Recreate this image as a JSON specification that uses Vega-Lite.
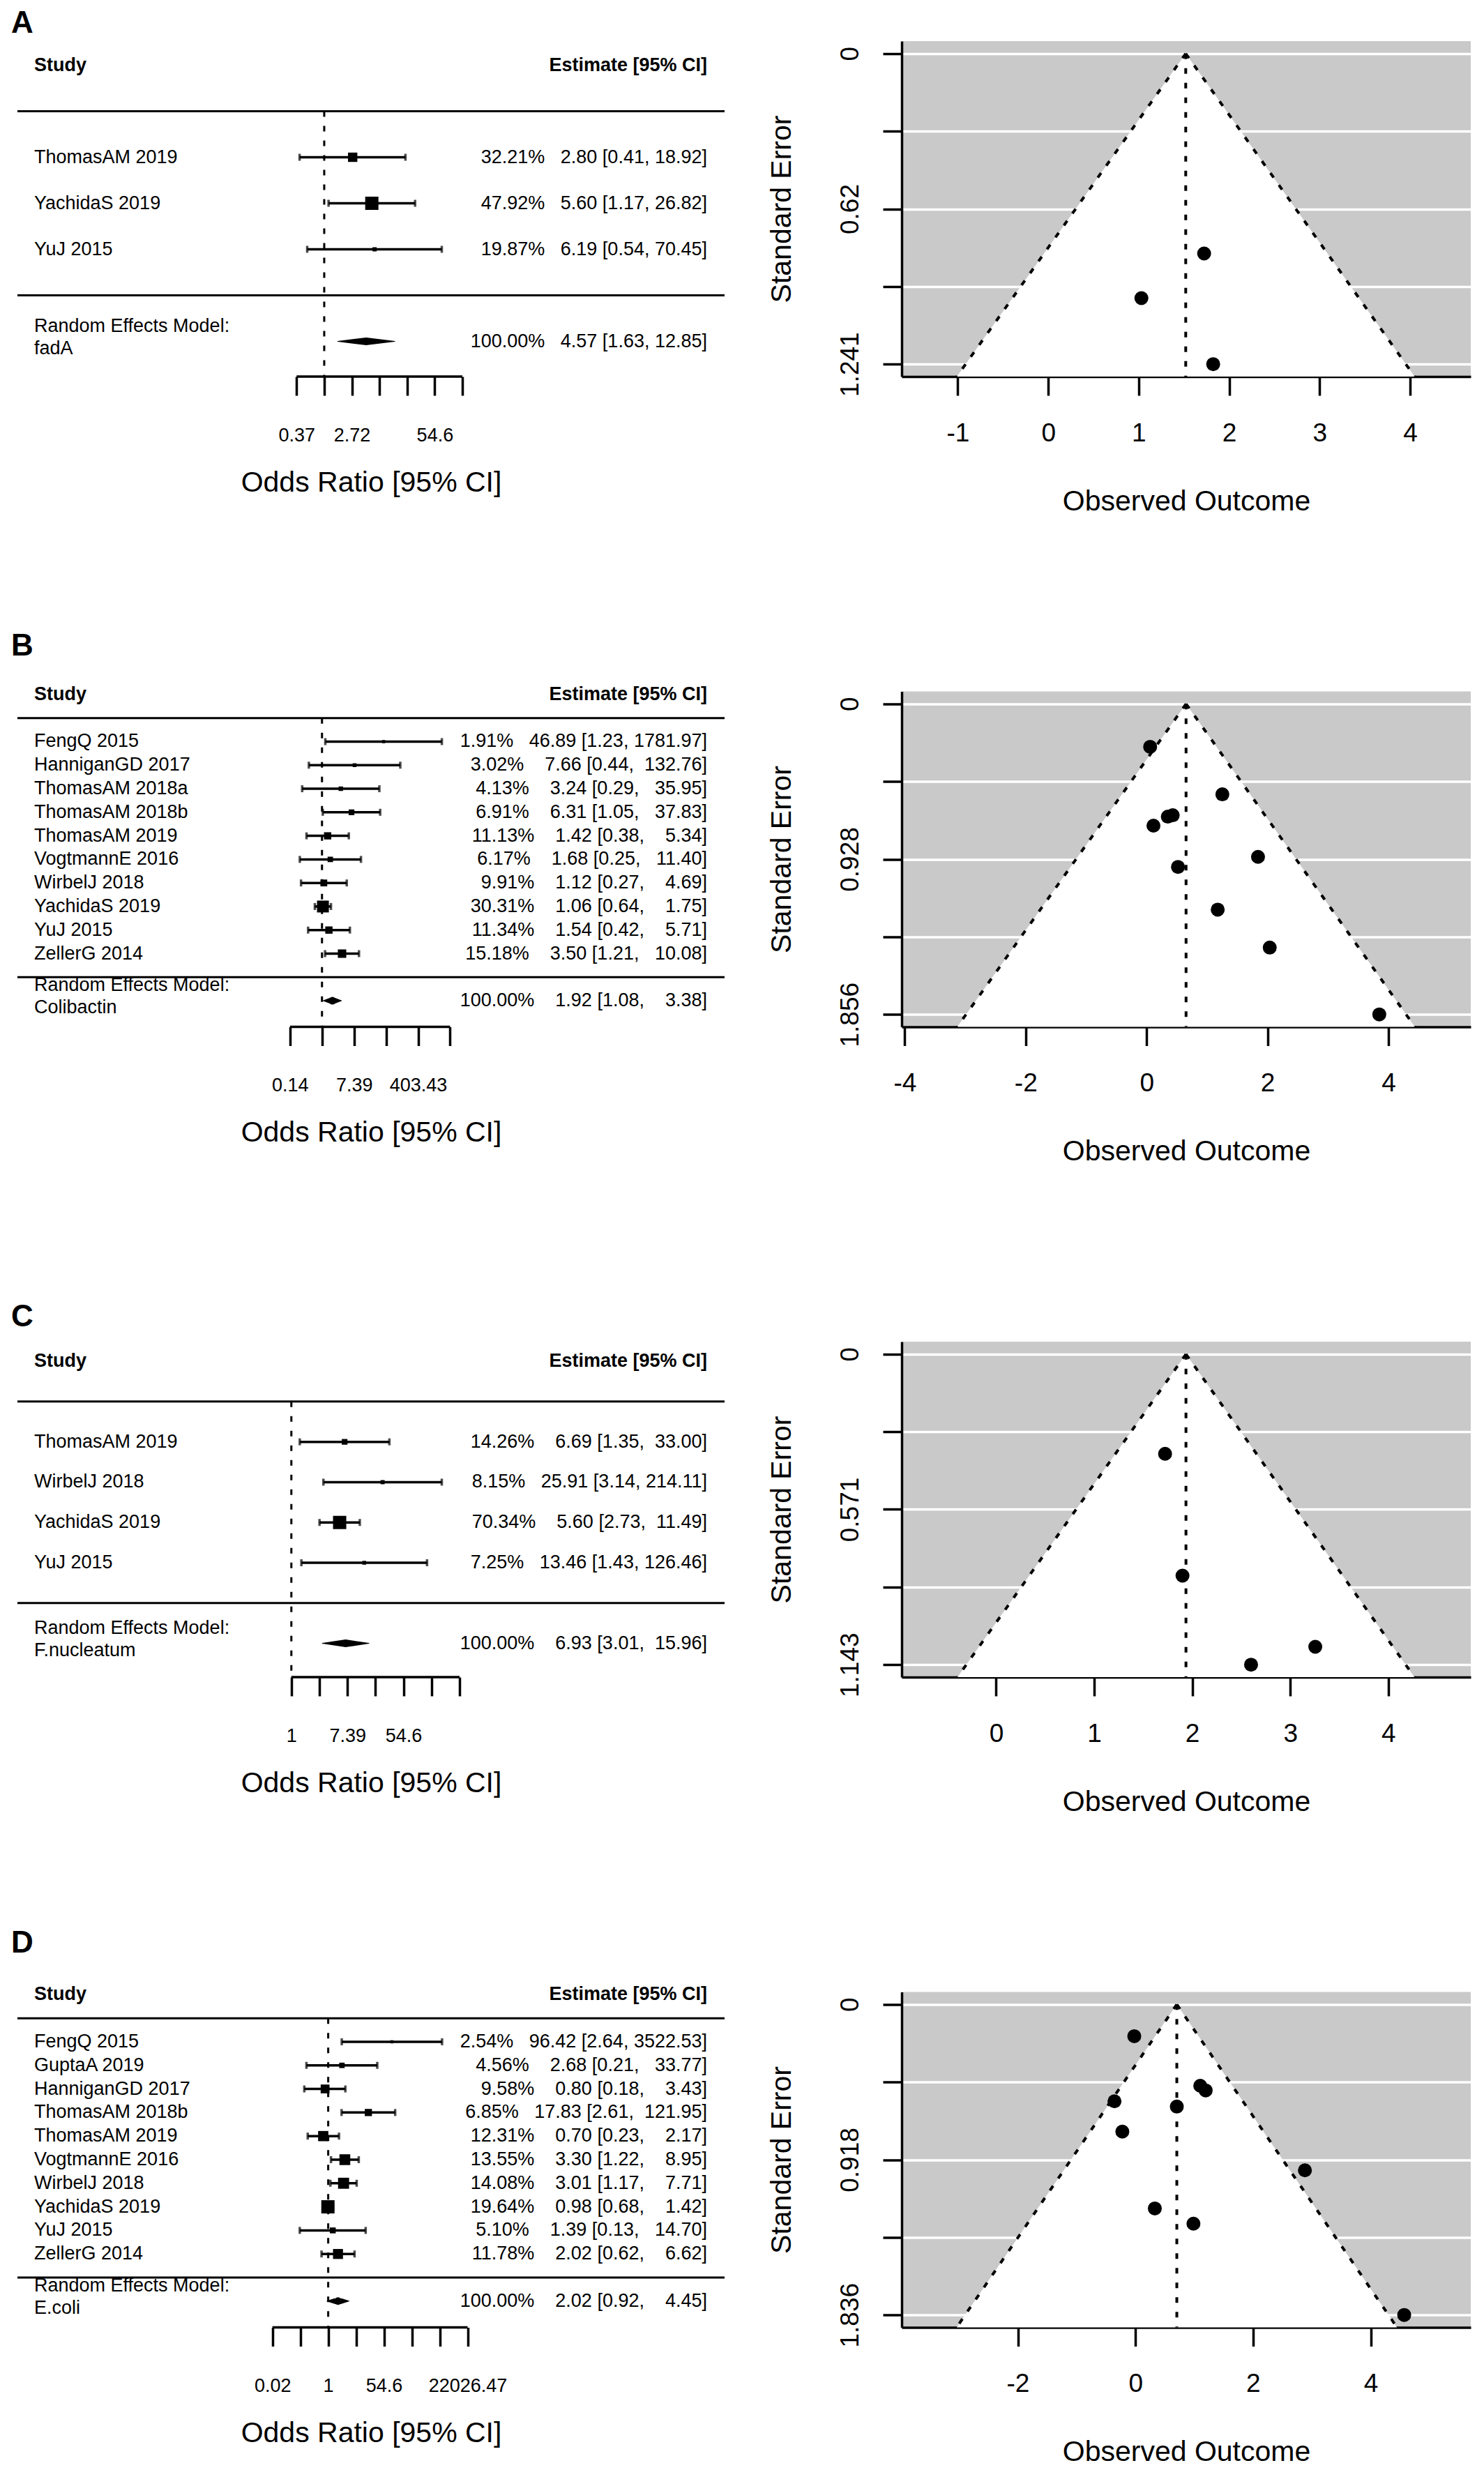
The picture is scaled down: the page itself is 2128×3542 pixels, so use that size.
{
"$schema": "https://vega.github.io/schema/vega-lite/v6.json",
"background": "white",
"padding": {"left": 16, "top": 12, "right": 10, "bottom": 5},
"columns": 2,
"bounds": "flush",
"align": "each",
"spacing": {"row": 451.5, "column": 254},
"config": {
 "font": "Liberation Sans",
 "view": {"stroke": null},
 "axis": {"labelFont": "Liberation Sans", "titleFont": "Liberation Sans", "labelColor": "#000", "titleColor": "#000", "domainColor": "#000", "tickColor": "#000", "titleFontWeight": "normal", "labelFlush": false, "labelOverlap": false, "labelBound": false},
 "title": {"font": "Liberation Sans", "fontSize": 44, "fontWeight": "bold", "color": "#000", "anchor": "start", "frame": "group", "baseline": "alphabetic", "dx": -9, "dy": 7},
 "text": {"font": "Liberation Sans", "fontSize": 27, "color": "#000"}
},
"datasets": {
 "fA": [
  {"study": "ThomasAM 2019", "row": 3, "or": 2.80, "lo": 0.41, "hi": 18.92, "w": 32.21, "annot": "32.21%\u00a0\u00a0\u00a02.80\u00a0[0.41,\u00a018.92]"},
  {"study": "YachidaS 2019", "row": 2, "or": 5.60, "lo": 1.17, "hi": 26.82, "w": 47.92, "annot": "47.92%\u00a0\u00a0\u00a05.60\u00a0[1.17,\u00a026.82]"},
  {"study": "YuJ 2015", "row": 1, "or": 6.19, "lo": 0.54, "hi": 70.45, "w": 19.87, "annot": "19.87%\u00a0\u00a0\u00a06.19\u00a0[0.54,\u00a070.45]"}
 ],
 "rA": [{"label": ["Random Effects Model:", "fadA"], "row": -1, "or": 4.57, "lo": 1.63, "hi": 12.85, "annot": "100.00%\u00a0\u00a0\u00a04.57\u00a0[1.63,\u00a012.85]"}],
 "dA": [{"row": -1, "val": 1.63, "vertex": "end"}, {"row": -1, "val": 4.57, "vertex": "mid"}, {"row": -1, "val": 12.85, "vertex": "end"}],
 "wA": [{"se": 0, "lo": 1.5195, "hi": 1.5195}, {"se": 1.291, "lo": -1.0109, "hi": 4.0499}],
 "lA": [{"x0": 1.5195, "y0": 0, "x1": -1.0109, "y1": 1.291}, {"x0": 1.5195, "y0": 0, "x1": 4.0499, "y1": 1.291}, {"x0": 1.5195, "y0": 0, "x1": 1.5195, "y1": 1.291}],
 "pA": [{"study": "ThomasAM 2019", "yi": 1.0296, "sei": 0.9775}, {"study": "YachidaS 2019", "yi": 1.7228, "sei": 0.799}, {"study": "YuJ 2015", "yi": 1.8229, "sei": 1.2413}],

 "fB": [
  {"study": "FengQ 2015", "row": 10, "or": 46.89, "lo": 1.23, "hi": 1781.97, "w": 1.91, "annot": "1.91%\u00a0\u00a0\u00a046.89\u00a0[1.23,\u00a01781.97]"},
  {"study": "HanniganGD 2017", "row": 9, "or": 7.66, "lo": 0.44, "hi": 132.76, "w": 3.02, "annot": "3.02%\u00a0\u00a0\u00a0\u00a07.66\u00a0[0.44,\u00a0\u00a0132.76]"},
  {"study": "ThomasAM 2018a", "row": 8, "or": 3.24, "lo": 0.29, "hi": 35.95, "w": 4.13, "annot": "4.13%\u00a0\u00a0\u00a0\u00a03.24\u00a0[0.29,\u00a0\u00a0\u00a035.95]"},
  {"study": "ThomasAM 2018b", "row": 7, "or": 6.31, "lo": 1.05, "hi": 37.83, "w": 6.91, "annot": "6.91%\u00a0\u00a0\u00a0\u00a06.31\u00a0[1.05,\u00a0\u00a0\u00a037.83]"},
  {"study": "ThomasAM 2019", "row": 6, "or": 1.42, "lo": 0.38, "hi": 5.34, "w": 11.13, "annot": "11.13%\u00a0\u00a0\u00a0\u00a01.42\u00a0[0.38,\u00a0\u00a0\u00a0\u00a05.34]"},
  {"study": "VogtmannE 2016", "row": 5, "or": 1.68, "lo": 0.25, "hi": 11.40, "w": 6.17, "annot": "6.17%\u00a0\u00a0\u00a0\u00a01.68\u00a0[0.25,\u00a0\u00a0\u00a011.40]"},
  {"study": "WirbelJ 2018", "row": 4, "or": 1.12, "lo": 0.27, "hi": 4.69, "w": 9.91, "annot": "9.91%\u00a0\u00a0\u00a0\u00a01.12\u00a0[0.27,\u00a0\u00a0\u00a0\u00a04.69]"},
  {"study": "YachidaS 2019", "row": 3, "or": 1.06, "lo": 0.64, "hi": 1.75, "w": 30.31, "annot": "30.31%\u00a0\u00a0\u00a0\u00a01.06\u00a0[0.64,\u00a0\u00a0\u00a0\u00a01.75]"},
  {"study": "YuJ 2015", "row": 2, "or": 1.54, "lo": 0.42, "hi": 5.71, "w": 11.34, "annot": "11.34%\u00a0\u00a0\u00a0\u00a01.54\u00a0[0.42,\u00a0\u00a0\u00a0\u00a05.71]"},
  {"study": "ZellerG 2014", "row": 1, "or": 3.50, "lo": 1.21, "hi": 10.08, "w": 15.18, "annot": "15.18%\u00a0\u00a0\u00a0\u00a03.50\u00a0[1.21,\u00a0\u00a0\u00a010.08]"}
 ],
 "rB": [{"label": ["Random Effects Model:", "Colibactin"], "row": -1, "or": 1.92, "lo": 1.08, "hi": 3.38, "annot": "100.00%\u00a0\u00a0\u00a0\u00a01.92\u00a0[1.08,\u00a0\u00a0\u00a0\u00a03.38]"}],
 "dB": [{"row": -1, "val": 1.08, "vertex": "end"}, {"row": -1, "val": 1.92, "vertex": "mid"}, {"row": -1, "val": 3.38, "vertex": "end"}],
 "wB": [{"se": 0, "lo": 0.6523, "hi": 0.6523}, {"se": 1.9302, "lo": -3.1309, "hi": 4.4355}],
 "lB": [{"x0": 0.6523, "y0": 0, "x1": -3.1309, "y1": 1.9302}, {"x0": 0.6523, "y0": 0, "x1": 4.4355, "y1": 1.9302}, {"x0": 0.6523, "y0": 0, "x1": 0.6523, "y1": 1.9302}],
 "pB": [
  {"study": "FengQ 2015", "yi": 3.8477, "sei": 1.856},
  {"study": "HanniganGD 2017", "yi": 2.036, "sei": 1.4565},
  {"study": "ThomasAM 2018a", "yi": 1.1756, "sei": 1.2296},
  {"study": "ThomasAM 2018b", "yi": 1.8421, "sei": 0.9143},
  {"study": "ThomasAM 2019", "yi": 0.3507, "sei": 0.6742},
  {"study": "VogtmannE 2016", "yi": 0.5188, "sei": 0.9745},
  {"study": "WirbelJ 2018", "yi": 0.1133, "sei": 0.7282},
  {"study": "YachidaS 2019", "yi": 0.0583, "sei": 0.2566},
  {"study": "YuJ 2015", "yi": 0.4318, "sei": 0.6657},
  {"study": "ZellerG 2014", "yi": 1.2528, "sei": 0.5408}
 ],

 "fC": [
  {"study": "ThomasAM 2019", "row": 4, "or": 6.69, "lo": 1.35, "hi": 33.00, "w": 14.26, "annot": "14.26%\u00a0\u00a0\u00a0\u00a06.69\u00a0[1.35,\u00a0\u00a033.00]"},
  {"study": "WirbelJ 2018", "row": 3, "or": 25.91, "lo": 3.14, "hi": 214.11, "w": 8.15, "annot": "8.15%\u00a0\u00a0\u00a025.91\u00a0[3.14,\u00a0214.11]"},
  {"study": "YachidaS 2019", "row": 2, "or": 5.60, "lo": 2.73, "hi": 11.49, "w": 70.34, "annot": "70.34%\u00a0\u00a0\u00a0\u00a05.60\u00a0[2.73,\u00a0\u00a011.49]"},
  {"study": "YuJ 2015", "row": 1, "or": 13.46, "lo": 1.43, "hi": 126.46, "w": 7.25, "annot": "7.25%\u00a0\u00a0\u00a013.46\u00a0[1.43,\u00a0126.46]"}
 ],
 "rC": [{"label": ["Random Effects Model:", "F.nucleatum"], "row": -1, "or": 6.93, "lo": 3.01, "hi": 15.96, "annot": "100.00%\u00a0\u00a0\u00a0\u00a06.93\u00a0[3.01,\u00a0\u00a015.96]"}],
 "dC": [{"row": -1, "val": 3.01, "vertex": "end"}, {"row": -1, "val": 6.93, "vertex": "mid"}, {"row": -1, "val": 15.96, "vertex": "end"}],
 "wC": [{"se": 0, "lo": 1.9359, "hi": 1.9359}, {"se": 1.1887, "lo": -0.394, "hi": 4.2658}],
 "lC": [{"x0": 1.9359, "y0": 0, "x1": -0.394, "y1": 1.1887}, {"x0": 1.9359, "y0": 0, "x1": 4.2658, "y1": 1.1887}, {"x0": 1.9359, "y0": 0, "x1": 1.9359, "y1": 1.1887}],
 "pC": [
  {"study": "ThomasAM 2019", "yi": 1.9006, "sei": 0.8154},
  {"study": "WirbelJ 2018", "yi": 3.2546, "sei": 1.0771},
  {"study": "YachidaS 2019", "yi": 1.7228, "sei": 0.3667},
  {"study": "YuJ 2015", "yi": 2.5997, "sei": 1.143}
 ],

 "fD": [
  {"study": "FengQ 2015", "row": 10, "or": 96.42, "lo": 2.64, "hi": 3522.53, "w": 2.54, "annot": "2.54%\u00a0\u00a0\u00a096.42\u00a0[2.64,\u00a03522.53]"},
  {"study": "GuptaA 2019", "row": 9, "or": 2.68, "lo": 0.21, "hi": 33.77, "w": 4.56, "annot": "4.56%\u00a0\u00a0\u00a0\u00a02.68\u00a0[0.21,\u00a0\u00a0\u00a033.77]"},
  {"study": "HanniganGD 2017", "row": 8, "or": 0.80, "lo": 0.18, "hi": 3.43, "w": 9.58, "annot": "9.58%\u00a0\u00a0\u00a0\u00a00.80\u00a0[0.18,\u00a0\u00a0\u00a0\u00a03.43]"},
  {"study": "ThomasAM 2018b", "row": 7, "or": 17.83, "lo": 2.61, "hi": 121.95, "w": 6.85, "annot": "6.85%\u00a0\u00a0\u00a017.83\u00a0[2.61,\u00a0\u00a0121.95]"},
  {"study": "ThomasAM 2019", "row": 6, "or": 0.70, "lo": 0.23, "hi": 2.17, "w": 12.31, "annot": "12.31%\u00a0\u00a0\u00a0\u00a00.70\u00a0[0.23,\u00a0\u00a0\u00a0\u00a02.17]"},
  {"study": "VogtmannE 2016", "row": 5, "or": 3.30, "lo": 1.22, "hi": 8.95, "w": 13.55, "annot": "13.55%\u00a0\u00a0\u00a0\u00a03.30\u00a0[1.22,\u00a0\u00a0\u00a0\u00a08.95]"},
  {"study": "WirbelJ 2018", "row": 4, "or": 3.01, "lo": 1.17, "hi": 7.71, "w": 14.08, "annot": "14.08%\u00a0\u00a0\u00a0\u00a03.01\u00a0[1.17,\u00a0\u00a0\u00a0\u00a07.71]"},
  {"study": "YachidaS 2019", "row": 3, "or": 0.98, "lo": 0.68, "hi": 1.42, "w": 19.64, "annot": "19.64%\u00a0\u00a0\u00a0\u00a00.98\u00a0[0.68,\u00a0\u00a0\u00a0\u00a01.42]"},
  {"study": "YuJ 2015", "row": 2, "or": 1.39, "lo": 0.13, "hi": 14.70, "w": 5.10, "annot": "5.10%\u00a0\u00a0\u00a0\u00a01.39\u00a0[0.13,\u00a0\u00a0\u00a014.70]"},
  {"study": "ZellerG 2014", "row": 1, "or": 2.02, "lo": 0.62, "hi": 6.62, "w": 11.78, "annot": "11.78%\u00a0\u00a0\u00a0\u00a02.02\u00a0[0.62,\u00a0\u00a0\u00a0\u00a06.62]"}
 ],
 "rD": [{"label": ["Random Effects Model:", "E.coli"], "row": -1, "or": 2.02, "lo": 0.92, "hi": 4.45, "annot": "100.00%\u00a0\u00a0\u00a0\u00a02.02\u00a0[0.92,\u00a0\u00a0\u00a0\u00a04.45]"}],
 "dD": [{"row": -1, "val": 0.92, "vertex": "end"}, {"row": -1, "val": 2.02, "vertex": "mid"}, {"row": -1, "val": 4.45, "vertex": "end"}],
 "wD": [{"se": 0, "lo": 0.7031, "hi": 0.7031}, {"se": 1.9094, "lo": -3.0393, "hi": 4.4455}],
 "lD": [{"x0": 0.7031, "y0": 0, "x1": -3.0393, "y1": 1.9094}, {"x0": 0.7031, "y0": 0, "x1": 4.4455, "y1": 1.9094}, {"x0": 0.7031, "y0": 0, "x1": 0.7031, "y1": 1.9094}],
 "pD": [
  {"study": "FengQ 2015", "yi": 4.5687, "sei": 1.836},
  {"study": "GuptaA 2019", "yi": 0.9858, "sei": 1.296},
  {"study": "HanniganGD 2017", "yi": -0.2231, "sei": 0.7519},
  {"study": "ThomasAM 2018b", "yi": 2.8808, "sei": 0.9807},
  {"study": "ThomasAM 2019", "yi": -0.3567, "sei": 0.5726},
  {"study": "VogtmannE 2016", "yi": 1.1939, "sei": 0.5084},
  {"study": "WirbelJ 2018", "yi": 1.1019, "sei": 0.481},
  {"study": "YachidaS 2019", "yi": -0.0202, "sei": 0.1879},
  {"study": "YuJ 2015", "yi": 0.3293, "sei": 1.2061},
  {"study": "ZellerG 2014", "yi": 0.7031, "sei": 0.6041}
 ]
},
"concat": [
 {
  "width": 1014, "height": 481,
  "title": {"text": "A", "offset": 10},
  "resolve": {"scale": {"size": "independent"}},
  "layer": [
   {"data": {"name": "fA"}, "mark": {"type": "rule", "strokeWidth": 3.5, "color": "black"},
    "encoding": {
     "x": {"field": "lo", "type": "quantitative", "title": "Odds Ratio [95% CI]",
      "scale": {"type": "log", "base": 2.718281828459045, "domain": [1.5052e-5, 1963000], "nice": false},
      "axis": {"values": [0.367879, 1, 2.718282, 7.389056, 20.085537, 54.59815, 148.413159], "labelExpr": "abs(datum.value-0.367879)<0.001 ? '0.37' : abs(datum.value-2.718282)<0.001 ? '2.72' : abs(datum.value-54.59815)<0.01 ? '54.6' : ''", "domain": false, "grid": false, "tickSize": 27, "tickWidth": 3.5, "labelFontSize": 27, "labelPadding": 44, "titleFontSize": 41, "titlePadding": 35}},
     "x2": {"field": "hi"},
     "y": {"field": "row", "type": "quantitative", "scale": {"domain": [-1.765, 5.523], "nice": false, "zero": false}, "axis": null}}},
   {"data": {"values": [{}]}, "mark": {"type": "rule", "strokeWidth": 3, "color": "black"}, "encoding": {"y": {"datum": 4, "axis": null}}},
   {"data": {"values": [{}]}, "mark": {"type": "rule", "strokeWidth": 3, "color": "black"}, "encoding": {"y": {"datum": 0, "axis": null}}},
   {"data": {"values": [{}]}, "mark": {"type": "rule", "strokeWidth": 3, "strokeDash": [8, 13], "color": "black"}, "encoding": {"x": {"datum": 1}, "y": {"datum": 4, "axis": null}, "y2": {"datum": -1.765}}},
   {"data": {"values": [{}]}, "mark": {"type": "rule", "strokeWidth": 3.5, "color": "black"}, "encoding": {"x": {"datum": 0.367879}, "x2": {"datum": 148.413159}, "y": {"datum": -1.765, "axis": null}}},
   {"data": {"name": "fA"}, "mark": {"type": "tick", "orient": "vertical", "size": 10, "thickness": 3.5, "color": "black"}, "encoding": {"x": {"field": "lo", "type": "quantitative", "title": "Odds Ratio [95% CI]"}, "y": {"field": "row", "type": "quantitative", "axis": null}}},
   {"data": {"name": "fA"}, "mark": {"type": "tick", "orient": "vertical", "size": 10, "thickness": 3.5, "color": "black"}, "encoding": {"x": {"field": "hi", "type": "quantitative", "title": "Odds Ratio [95% CI]"}, "y": {"field": "row", "type": "quantitative", "axis": null}}},
   {"data": {"name": "fA"}, "mark": {"type": "point", "shape": "square", "filled": true, "color": "black", "opacity": 1}, "encoding": {"x": {"field": "or", "type": "quantitative", "title": "Odds Ratio [95% CI]"}, "y": {"field": "row", "type": "quantitative", "axis": null}, "size": {"field": "w", "type": "quantitative", "scale": {"domain": [19.87, 47.92], "range": [36, 361]}, "legend": null}}},
   {"data": {"name": "dA"}, "mark": {"type": "trail", "color": "black"}, "encoding": {"x": {"field": "val", "type": "quantitative", "title": "Odds Ratio [95% CI]"}, "y": {"field": "row", "type": "quantitative", "axis": null}, "size": {"field": "vertex", "type": "nominal", "scale": {"type": "point", "domain": ["end", "mid"], "range": [0, 11], "padding": 0}, "legend": null}, "order": {"field": "val", "type": "quantitative"}}},
   {"data": {"name": "fA"}, "mark": {"type": "text", "align": "left", "baseline": "middle", "dx": 24, "fontSize": 27}, "encoding": {"x": {"datum": 1.5052e-5}, "y": {"field": "row", "type": "quantitative", "axis": null}, "text": {"field": "study", "type": "nominal"}}},
   {"data": {"name": "fA"}, "mark": {"type": "text", "align": "right", "baseline": "middle", "dx": -25, "fontSize": 27}, "encoding": {"x": {"datum": 1963000}, "y": {"field": "row", "type": "quantitative", "axis": null}, "text": {"field": "annot", "type": "nominal"}}},
   {"data": {"name": "rA"}, "mark": {"type": "text", "align": "left", "baseline": "middle", "dx": 24, "dy": -22, "fontSize": 27, "lineHeight": 32}, "encoding": {"x": {"datum": 1.5052e-5}, "y": {"field": "row", "type": "quantitative", "axis": null}, "text": {"field": "label", "type": "nominal"}}},
   {"data": {"name": "rA"}, "mark": {"type": "text", "align": "right", "baseline": "middle", "dx": -25, "fontSize": 27}, "encoding": {"x": {"datum": 1963000}, "y": {"field": "row", "type": "quantitative", "axis": null}, "text": {"field": "annot", "type": "nominal"}}},
   {"data": {"values": [{}]}, "mark": {"type": "text", "text": "Study", "fontWeight": "bold", "align": "left", "baseline": "middle", "dx": 24, "fontSize": 27}, "encoding": {"x": {"datum": 1.5052e-5}, "y": {"datum": 5, "axis": null}}},
   {"data": {"values": [{}]}, "mark": {"type": "text", "text": "Estimate [95% CI]", "fontWeight": "bold", "align": "right", "baseline": "middle", "dx": -25, "fontSize": 27}, "encoding": {"x": {"datum": 1963000}, "y": {"datum": 5, "axis": null}}}
  ]
 },
 {
  "width": 816, "height": 481,
  "view": {"fill": "#c9c9c9", "stroke": null},
  "layer": [
   {"data": {"name": "wA"}, "mark": {"type": "area", "orient": "horizontal", "color": "white", "opacity": 1},
    "encoding": {
     "y": {"field": "se", "type": "quantitative", "title": "Standard Error", "scale": {"domain": [-0.0497, 1.291], "reverse": true, "nice": false, "zero": false},
      "axis": {"values": [0, 0.31033, 0.62065, 0.93098, 1.2413], "labelExpr": "datum.value == 0 ? '0' : datum.value == 0.62065 ? '0.62' : datum.value == 1.2413 ? '1.241' : ''", "grid": true, "gridColor": "white", "gridWidth": 3.5, "gridOpacity": 1, "tickSize": 27, "tickWidth": 3.5, "domainWidth": 3.5, "labelAngle": 270, "labelAlign": "center", "labelBaseline": "alphabetic", "labelPadding": 36, "labelFontSize": 37, "title": "Standard Error", "titleFontSize": 41, "titlePadding": 58}},
     "x": {"field": "lo", "type": "quantitative", "title": "Observed Outcome", "scale": {"domain": [-1.62, 4.67], "nice": false, "zero": false},
      "axis": {"values": [-1, 0, 1, 2, 3, 4], "labelExpr": "datum.value < 0 ? '-' + abs(datum.value) : '' + datum.value", "grid": false, "tickSize": 27, "tickWidth": 3.5, "domainWidth": 3.5, "labelPadding": 36, "labelFontSize": 37, "title": "Observed Outcome", "titleFontSize": 41, "titlePadding": 60}},
     "x2": {"field": "hi"}}},
   {"data": {"name": "lA"}, "mark": {"type": "rule", "strokeDash": [8, 13], "strokeWidth": 4, "color": "black"}, "encoding": {"x": {"field": "x0", "type": "quantitative", "title": "Observed Outcome"}, "y": {"field": "y0", "type": "quantitative", "title": "Standard Error"}, "x2": {"field": "x1"}, "y2": {"field": "y1"}}},
   {"data": {"name": "pA"}, "mark": {"type": "point", "shape": "circle", "filled": true, "size": 400, "color": "black", "opacity": 1}, "encoding": {"x": {"field": "yi", "type": "quantitative", "title": "Observed Outcome"}, "y": {"field": "sei", "type": "quantitative", "title": "Standard Error"}}}
  ]
 },
 {
  "width": 1014, "height": 481,
  "title": {"text": "B", "offset": 40},
  "resolve": {"scale": {"size": "independent"}},
  "layer": [
   {"data": {"name": "fB"}, "mark": {"type": "rule", "strokeWidth": 3.5, "color": "black"},
    "encoding": {
     "x": {"field": "lo", "type": "quantitative", "title": "Odds Ratio [95% CI]",
      "scale": {"type": "log", "base": 2.718281828459045, "domain": [5.492e-9, 82830000000], "nice": false},
      "axis": {"values": [0.135335, 1, 7.389056, 54.59815, 403.428793, 2980.957987], "labelExpr": "abs(datum.value-0.135335)<0.001 ? '0.14' : abs(datum.value-7.389056)<0.001 ? '7.39' : abs(datum.value-403.428793)<0.01 ? '403.43' : ''", "domain": false, "grid": false, "tickSize": 27, "tickWidth": 3.5, "labelFontSize": 27, "labelPadding": 44, "titleFontSize": 41, "titlePadding": 35}},
     "x2": {"field": "hi"},
     "y": {"field": "row", "type": "quantitative", "scale": {"domain": [-2.108, 12.131], "nice": false, "zero": false}, "axis": null}}},
   {"data": {"values": [{}]}, "mark": {"type": "rule", "strokeWidth": 3, "color": "black"}, "encoding": {"y": {"datum": 11, "axis": null}}},
   {"data": {"values": [{}]}, "mark": {"type": "rule", "strokeWidth": 3, "color": "black"}, "encoding": {"y": {"datum": 0, "axis": null}}},
   {"data": {"values": [{}]}, "mark": {"type": "rule", "strokeWidth": 3, "strokeDash": [8, 13], "color": "black"}, "encoding": {"x": {"datum": 1}, "y": {"datum": 11, "axis": null}, "y2": {"datum": -2.108}}},
   {"data": {"values": [{}]}, "mark": {"type": "rule", "strokeWidth": 3.5, "color": "black"}, "encoding": {"x": {"datum": 0.135335}, "x2": {"datum": 2980.957987}, "y": {"datum": -2.108, "axis": null}}},
   {"data": {"name": "fB"}, "mark": {"type": "tick", "orient": "vertical", "size": 10, "thickness": 3.5, "color": "black"}, "encoding": {"x": {"field": "lo", "type": "quantitative", "title": "Odds Ratio [95% CI]"}, "y": {"field": "row", "type": "quantitative", "axis": null}}},
   {"data": {"name": "fB"}, "mark": {"type": "tick", "orient": "vertical", "size": 10, "thickness": 3.5, "color": "black"}, "encoding": {"x": {"field": "hi", "type": "quantitative", "title": "Odds Ratio [95% CI]"}, "y": {"field": "row", "type": "quantitative", "axis": null}}},
   {"data": {"name": "fB"}, "mark": {"type": "point", "shape": "square", "filled": true, "color": "black", "opacity": 1}, "encoding": {"x": {"field": "or", "type": "quantitative", "title": "Odds Ratio [95% CI]"}, "y": {"field": "row", "type": "quantitative", "axis": null}, "size": {"field": "w", "type": "quantitative", "scale": {"domain": [1.91, 30.31], "range": [20, 289]}, "legend": null}}},
   {"data": {"name": "dB"}, "mark": {"type": "trail", "color": "black"}, "encoding": {"x": {"field": "val", "type": "quantitative", "title": "Odds Ratio [95% CI]"}, "y": {"field": "row", "type": "quantitative", "axis": null}, "size": {"field": "vertex", "type": "nominal", "scale": {"type": "point", "domain": ["end", "mid"], "range": [0, 11], "padding": 0}, "legend": null}, "order": {"field": "val", "type": "quantitative"}}},
   {"data": {"name": "fB"}, "mark": {"type": "text", "align": "left", "baseline": "middle", "dx": 24, "fontSize": 27}, "encoding": {"x": {"datum": 5.492e-9}, "y": {"field": "row", "type": "quantitative", "axis": null}, "text": {"field": "study", "type": "nominal"}}},
   {"data": {"name": "fB"}, "mark": {"type": "text", "align": "right", "baseline": "middle", "dx": -25, "fontSize": 27}, "encoding": {"x": {"datum": 82830000000}, "y": {"field": "row", "type": "quantitative", "axis": null}, "text": {"field": "annot", "type": "nominal"}}},
   {"data": {"name": "rB"}, "mark": {"type": "text", "align": "left", "baseline": "middle", "dx": 24, "dy": -22, "fontSize": 27, "lineHeight": 32}, "encoding": {"x": {"datum": 5.492e-9}, "y": {"field": "row", "type": "quantitative", "axis": null}, "text": {"field": "label", "type": "nominal"}}},
   {"data": {"name": "rB"}, "mark": {"type": "text", "align": "right", "baseline": "middle", "dx": -25, "fontSize": 27}, "encoding": {"x": {"datum": 82830000000}, "y": {"field": "row", "type": "quantitative", "axis": null}, "text": {"field": "annot", "type": "nominal"}}},
   {"data": {"values": [{}]}, "mark": {"type": "text", "text": "Study", "fontWeight": "bold", "align": "left", "baseline": "middle", "dx": 24, "fontSize": 27}, "encoding": {"x": {"datum": 5.492e-9}, "y": {"datum": 12, "axis": null}}},
   {"data": {"values": [{}]}, "mark": {"type": "text", "text": "Estimate [95% CI]", "fontWeight": "bold", "align": "right", "baseline": "middle", "dx": -25, "fontSize": 27}, "encoding": {"x": {"datum": 82830000000}, "y": {"datum": 12, "axis": null}}}
  ]
 },
 {
  "width": 816, "height": 481,
  "view": {"fill": "#c9c9c9", "stroke": null},
  "layer": [
   {"data": {"name": "wB"}, "mark": {"type": "area", "orient": "horizontal", "color": "white", "opacity": 1},
    "encoding": {
     "y": {"field": "se", "type": "quantitative", "title": "Standard Error", "scale": {"domain": [-0.0742, 1.9302], "reverse": true, "nice": false, "zero": false},
      "axis": {"values": [0, 0.464, 0.928, 1.392, 1.856], "labelExpr": "datum.value == 0 ? '0' : datum.value == 0.928 ? '0.928' : datum.value == 1.856 ? '1.856' : ''", "grid": true, "gridColor": "white", "gridWidth": 3.5, "gridOpacity": 1, "tickSize": 27, "tickWidth": 3.5, "domainWidth": 3.5, "labelAngle": 270, "labelAlign": "center", "labelBaseline": "alphabetic", "labelPadding": 36, "labelFontSize": 37, "title": "Standard Error", "titleFontSize": 41, "titlePadding": 58}},
     "x": {"field": "lo", "type": "quantitative", "title": "Observed Outcome", "scale": {"domain": [-4.05, 5.36], "nice": false, "zero": false},
      "axis": {"values": [-4, -2, 0, 2, 4], "labelExpr": "datum.value < 0 ? '-' + abs(datum.value) : '' + datum.value", "grid": false, "tickSize": 27, "tickWidth": 3.5, "domainWidth": 3.5, "labelPadding": 36, "labelFontSize": 37, "title": "Observed Outcome", "titleFontSize": 41, "titlePadding": 60}},
     "x2": {"field": "hi"}}},
   {"data": {"name": "lB"}, "mark": {"type": "rule", "strokeDash": [8, 13], "strokeWidth": 4, "color": "black"}, "encoding": {"x": {"field": "x0", "type": "quantitative", "title": "Observed Outcome"}, "y": {"field": "y0", "type": "quantitative", "title": "Standard Error"}, "x2": {"field": "x1"}, "y2": {"field": "y1"}}},
   {"data": {"name": "pB"}, "mark": {"type": "point", "shape": "circle", "filled": true, "size": 400, "color": "black", "opacity": 1}, "encoding": {"x": {"field": "yi", "type": "quantitative", "title": "Observed Outcome"}, "y": {"field": "sei", "type": "quantitative", "title": "Standard Error"}}}
  ]
 },
 {
  "width": 1014, "height": 481,
  "title": {"text": "C", "offset": 20},
  "resolve": {"scale": {"size": "independent"}},
  "layer": [
   {"data": {"name": "fC"}, "mark": {"type": "rule", "strokeWidth": 3.5, "color": "black"},
    "encoding": {
     "x": {"field": "lo", "type": "quantitative", "title": "Odds Ratio [95% CI]",
      "scale": {"type": "log", "base": 2.718281828459045, "domain": [5.709e-5, 5142000], "nice": false},
      "axis": {"values": [1, 2.718282, 7.389056, 20.085537, 54.59815, 148.413159, 403.428793], "labelExpr": "abs(datum.value-1)<0.001 ? '1' : abs(datum.value-7.389056)<0.001 ? '7.39' : abs(datum.value-54.59815)<0.01 ? '54.6' : ''", "domain": false, "grid": false, "tickSize": 27, "tickWidth": 3.5, "labelFontSize": 27, "labelPadding": 44, "titleFontSize": 41, "titlePadding": 35}},
     "x2": {"field": "hi"},
     "y": {"field": "row", "type": "quantitative", "scale": {"domain": [-1.837, 6.485], "nice": false, "zero": false}, "axis": null}}},
   {"data": {"values": [{}]}, "mark": {"type": "rule", "strokeWidth": 3, "color": "black"}, "encoding": {"y": {"datum": 5, "axis": null}}},
   {"data": {"values": [{}]}, "mark": {"type": "rule", "strokeWidth": 3, "color": "black"}, "encoding": {"y": {"datum": 0, "axis": null}}},
   {"data": {"values": [{}]}, "mark": {"type": "rule", "strokeWidth": 3, "strokeDash": [8, 13], "color": "black"}, "encoding": {"x": {"datum": 1}, "y": {"datum": 5, "axis": null}, "y2": {"datum": -1.837}}},
   {"data": {"values": [{}]}, "mark": {"type": "rule", "strokeWidth": 3.5, "color": "black"}, "encoding": {"x": {"datum": 1}, "x2": {"datum": 403.428793}, "y": {"datum": -1.837, "axis": null}}},
   {"data": {"name": "fC"}, "mark": {"type": "tick", "orient": "vertical", "size": 10, "thickness": 3.5, "color": "black"}, "encoding": {"x": {"field": "lo", "type": "quantitative", "title": "Odds Ratio [95% CI]"}, "y": {"field": "row", "type": "quantitative", "axis": null}}},
   {"data": {"name": "fC"}, "mark": {"type": "tick", "orient": "vertical", "size": 10, "thickness": 3.5, "color": "black"}, "encoding": {"x": {"field": "hi", "type": "quantitative", "title": "Odds Ratio [95% CI]"}, "y": {"field": "row", "type": "quantitative", "axis": null}}},
   {"data": {"name": "fC"}, "mark": {"type": "point", "shape": "square", "filled": true, "color": "black", "opacity": 1}, "encoding": {"x": {"field": "or", "type": "quantitative", "title": "Odds Ratio [95% CI]"}, "y": {"field": "row", "type": "quantitative", "axis": null}, "size": {"field": "w", "type": "quantitative", "scale": {"domain": [7.25, 70.34], "range": [30, 361]}, "legend": null}}},
   {"data": {"name": "dC"}, "mark": {"type": "trail", "color": "black"}, "encoding": {"x": {"field": "val", "type": "quantitative", "title": "Odds Ratio [95% CI]"}, "y": {"field": "row", "type": "quantitative", "axis": null}, "size": {"field": "vertex", "type": "nominal", "scale": {"type": "point", "domain": ["end", "mid"], "range": [0, 11], "padding": 0}, "legend": null}, "order": {"field": "val", "type": "quantitative"}}},
   {"data": {"name": "fC"}, "mark": {"type": "text", "align": "left", "baseline": "middle", "dx": 24, "fontSize": 27}, "encoding": {"x": {"datum": 5.709e-5}, "y": {"field": "row", "type": "quantitative", "axis": null}, "text": {"field": "study", "type": "nominal"}}},
   {"data": {"name": "fC"}, "mark": {"type": "text", "align": "right", "baseline": "middle", "dx": -25, "fontSize": 27}, "encoding": {"x": {"datum": 5142000}, "y": {"field": "row", "type": "quantitative", "axis": null}, "text": {"field": "annot", "type": "nominal"}}},
   {"data": {"name": "rC"}, "mark": {"type": "text", "align": "left", "baseline": "middle", "dx": 24, "dy": -22, "fontSize": 27, "lineHeight": 32}, "encoding": {"x": {"datum": 5.709e-5}, "y": {"field": "row", "type": "quantitative", "axis": null}, "text": {"field": "label", "type": "nominal"}}},
   {"data": {"name": "rC"}, "mark": {"type": "text", "align": "right", "baseline": "middle", "dx": -25, "fontSize": 27}, "encoding": {"x": {"datum": 5142000}, "y": {"field": "row", "type": "quantitative", "axis": null}, "text": {"field": "annot", "type": "nominal"}}},
   {"data": {"values": [{}]}, "mark": {"type": "text", "text": "Study", "fontWeight": "bold", "align": "left", "baseline": "middle", "dx": 24, "fontSize": 27}, "encoding": {"x": {"datum": 5.709e-5}, "y": {"datum": 6, "axis": null}}},
   {"data": {"values": [{}]}, "mark": {"type": "text", "text": "Estimate [95% CI]", "fontWeight": "bold", "align": "right", "baseline": "middle", "dx": -25, "fontSize": 27}, "encoding": {"x": {"datum": 5142000}, "y": {"datum": 6, "axis": null}}}
  ]
 },
 {
  "width": 816, "height": 481,
  "view": {"fill": "#c9c9c9", "stroke": null},
  "layer": [
   {"data": {"name": "wC"}, "mark": {"type": "area", "orient": "horizontal", "color": "white", "opacity": 1},
    "encoding": {
     "y": {"field": "se", "type": "quantitative", "title": "Standard Error", "scale": {"domain": [-0.0457, 1.1887], "reverse": true, "nice": false, "zero": false},
      "axis": {"values": [0, 0.28575, 0.5715, 0.85725, 1.143], "labelExpr": "datum.value == 0 ? '0' : datum.value == 0.5715 ? '0.571' : datum.value == 1.143 ? '1.143' : ''", "grid": true, "gridColor": "white", "gridWidth": 3.5, "gridOpacity": 1, "tickSize": 27, "tickWidth": 3.5, "domainWidth": 3.5, "labelAngle": 270, "labelAlign": "center", "labelBaseline": "alphabetic", "labelPadding": 36, "labelFontSize": 37, "title": "Standard Error", "titleFontSize": 41, "titlePadding": 58}},
     "x": {"field": "lo", "type": "quantitative", "title": "Observed Outcome", "scale": {"domain": [-0.963, 4.84], "nice": false, "zero": false},
      "axis": {"values": [0, 1, 2, 3, 4], "labelExpr": "datum.value < 0 ? '-' + abs(datum.value) : '' + datum.value", "grid": false, "tickSize": 27, "tickWidth": 3.5, "domainWidth": 3.5, "labelPadding": 36, "labelFontSize": 37, "title": "Observed Outcome", "titleFontSize": 41, "titlePadding": 60}},
     "x2": {"field": "hi"}}},
   {"data": {"name": "lC"}, "mark": {"type": "rule", "strokeDash": [8, 13], "strokeWidth": 4, "color": "black"}, "encoding": {"x": {"field": "x0", "type": "quantitative", "title": "Observed Outcome"}, "y": {"field": "y0", "type": "quantitative", "title": "Standard Error"}, "x2": {"field": "x1"}, "y2": {"field": "y1"}}},
   {"data": {"name": "pC"}, "mark": {"type": "point", "shape": "circle", "filled": true, "size": 400, "color": "black", "opacity": 1}, "encoding": {"x": {"field": "yi", "type": "quantitative", "title": "Observed Outcome"}, "y": {"field": "sei", "type": "quantitative", "title": "Standard Error"}}}
  ]
 },
 {
  "width": 1014, "height": 481,
  "title": {"text": "D", "offset": 44},
  "resolve": {"scale": {"size": "independent"}},
  "layer": [
   {"data": {"name": "fD"}, "mark": {"type": "rule", "strokeWidth": 3.5, "color": "black"},
    "encoding": {
     "x": {"field": "lo", "type": "quantitative", "title": "Odds Ratio [95% CI]",
      "scale": {"type": "log", "base": 2.718281828459045, "domain": [2.087e-10, 2223000000000], "nice": false},
      "axis": {"values": [0.018316, 0.135335, 1, 7.389056, 54.59815, 403.428793, 2980.957987, 22026.465795], "labelExpr": "abs(datum.value-0.018316)<0.0001 ? '0.02' : abs(datum.value-1)<0.001 ? '1' : abs(datum.value-54.59815)<0.01 ? '54.6' : abs(datum.value-22026.465795)<0.1 ? '22026.47' : ''", "domain": false, "grid": false, "tickSize": 27, "tickWidth": 3.5, "labelFontSize": 27, "labelPadding": 44, "titleFontSize": 41, "titlePadding": 35}},
     "x2": {"field": "hi"},
     "y": {"field": "row", "type": "quantitative", "scale": {"domain": [-2.114, 12.113], "nice": false, "zero": false}, "axis": null}}},
   {"data": {"values": [{}]}, "mark": {"type": "rule", "strokeWidth": 3, "color": "black"}, "encoding": {"y": {"datum": 11, "axis": null}}},
   {"data": {"values": [{}]}, "mark": {"type": "rule", "strokeWidth": 3, "color": "black"}, "encoding": {"y": {"datum": 0, "axis": null}}},
   {"data": {"values": [{}]}, "mark": {"type": "rule", "strokeWidth": 3, "strokeDash": [8, 13], "color": "black"}, "encoding": {"x": {"datum": 1}, "y": {"datum": 11, "axis": null}, "y2": {"datum": -2.114}}},
   {"data": {"values": [{}]}, "mark": {"type": "rule", "strokeWidth": 3.5, "color": "black"}, "encoding": {"x": {"datum": 0.018316}, "x2": {"datum": 22026.465795}, "y": {"datum": -2.114, "axis": null}}},
   {"data": {"name": "fD"}, "mark": {"type": "tick", "orient": "vertical", "size": 10, "thickness": 3.5, "color": "black"}, "encoding": {"x": {"field": "lo", "type": "quantitative", "title": "Odds Ratio [95% CI]"}, "y": {"field": "row", "type": "quantitative", "axis": null}}},
   {"data": {"name": "fD"}, "mark": {"type": "tick", "orient": "vertical", "size": 10, "thickness": 3.5, "color": "black"}, "encoding": {"x": {"field": "hi", "type": "quantitative", "title": "Odds Ratio [95% CI]"}, "y": {"field": "row", "type": "quantitative", "axis": null}}},
   {"data": {"name": "fD"}, "mark": {"type": "point", "shape": "square", "filled": true, "color": "black", "opacity": 1}, "encoding": {"x": {"field": "or", "type": "quantitative", "title": "Odds Ratio [95% CI]"}, "y": {"field": "row", "type": "quantitative", "axis": null}, "size": {"field": "w", "type": "quantitative", "scale": {"domain": [2.54, 19.64], "range": [20, 361]}, "legend": null}}},
   {"data": {"name": "dD"}, "mark": {"type": "trail", "color": "black"}, "encoding": {"x": {"field": "val", "type": "quantitative", "title": "Odds Ratio [95% CI]"}, "y": {"field": "row", "type": "quantitative", "axis": null}, "size": {"field": "vertex", "type": "nominal", "scale": {"type": "point", "domain": ["end", "mid"], "range": [0, 11], "padding": 0}, "legend": null}, "order": {"field": "val", "type": "quantitative"}}},
   {"data": {"name": "fD"}, "mark": {"type": "text", "align": "left", "baseline": "middle", "dx": 24, "fontSize": 27}, "encoding": {"x": {"datum": 2.087e-10}, "y": {"field": "row", "type": "quantitative", "axis": null}, "text": {"field": "study", "type": "nominal"}}},
   {"data": {"name": "fD"}, "mark": {"type": "text", "align": "right", "baseline": "middle", "dx": -25, "fontSize": 27}, "encoding": {"x": {"datum": 2223000000000}, "y": {"field": "row", "type": "quantitative", "axis": null}, "text": {"field": "annot", "type": "nominal"}}},
   {"data": {"name": "rD"}, "mark": {"type": "text", "align": "left", "baseline": "middle", "dx": 24, "dy": -22, "fontSize": 27, "lineHeight": 32}, "encoding": {"x": {"datum": 2.087e-10}, "y": {"field": "row", "type": "quantitative", "axis": null}, "text": {"field": "label", "type": "nominal"}}},
   {"data": {"name": "rD"}, "mark": {"type": "text", "align": "right", "baseline": "middle", "dx": -25, "fontSize": 27}, "encoding": {"x": {"datum": 2223000000000}, "y": {"field": "row", "type": "quantitative", "axis": null}, "text": {"field": "annot", "type": "nominal"}}},
   {"data": {"values": [{}]}, "mark": {"type": "text", "text": "Study", "fontWeight": "bold", "align": "left", "baseline": "middle", "dx": 24, "fontSize": 27}, "encoding": {"x": {"datum": 2.087e-10}, "y": {"datum": 12, "axis": null}}},
   {"data": {"values": [{}]}, "mark": {"type": "text", "text": "Estimate [95% CI]", "fontWeight": "bold", "align": "right", "baseline": "middle", "dx": -25, "fontSize": 27}, "encoding": {"x": {"datum": 2223000000000}, "y": {"datum": 12, "axis": null}}}
  ]
 },
 {
  "width": 816, "height": 481,
  "view": {"fill": "#c9c9c9", "stroke": null},
  "layer": [
   {"data": {"name": "wD"}, "mark": {"type": "area", "orient": "horizontal", "color": "white", "opacity": 1},
    "encoding": {
     "y": {"field": "se", "type": "quantitative", "title": "Standard Error", "scale": {"domain": [-0.0734, 1.9094], "reverse": true, "nice": false, "zero": false},
      "axis": {"values": [0, 0.459, 0.918, 1.377, 1.836], "labelExpr": "datum.value == 0 ? '0' : datum.value == 0.918 ? '0.918' : datum.value == 1.836 ? '1.836' : ''", "grid": true, "gridColor": "white", "gridWidth": 3.5, "gridOpacity": 1, "tickSize": 27, "tickWidth": 3.5, "domainWidth": 3.5, "labelAngle": 270, "labelAlign": "center", "labelBaseline": "alphabetic", "labelPadding": 36, "labelFontSize": 37, "title": "Standard Error", "titleFontSize": 41, "titlePadding": 58}},
     "x": {"field": "lo", "type": "quantitative", "title": "Observed Outcome", "scale": {"domain": [-3.974, 5.7], "nice": false, "zero": false},
      "axis": {"values": [-2, 0, 2, 4], "labelExpr": "datum.value < 0 ? '-' + abs(datum.value) : '' + datum.value", "grid": false, "tickSize": 27, "tickWidth": 3.5, "domainWidth": 3.5, "labelPadding": 36, "labelFontSize": 37, "title": "Observed Outcome", "titleFontSize": 41, "titlePadding": 60}},
     "x2": {"field": "hi"}}},
   {"data": {"name": "lD"}, "mark": {"type": "rule", "strokeDash": [8, 13], "strokeWidth": 4, "color": "black"}, "encoding": {"x": {"field": "x0", "type": "quantitative", "title": "Observed Outcome"}, "y": {"field": "y0", "type": "quantitative", "title": "Standard Error"}, "x2": {"field": "x1"}, "y2": {"field": "y1"}}},
   {"data": {"name": "pD"}, "mark": {"type": "point", "shape": "circle", "filled": true, "size": 400, "color": "black", "opacity": 1}, "encoding": {"x": {"field": "yi", "type": "quantitative", "title": "Observed Outcome"}, "y": {"field": "sei", "type": "quantitative", "title": "Standard Error"}}}
  ]
 }
]
}
